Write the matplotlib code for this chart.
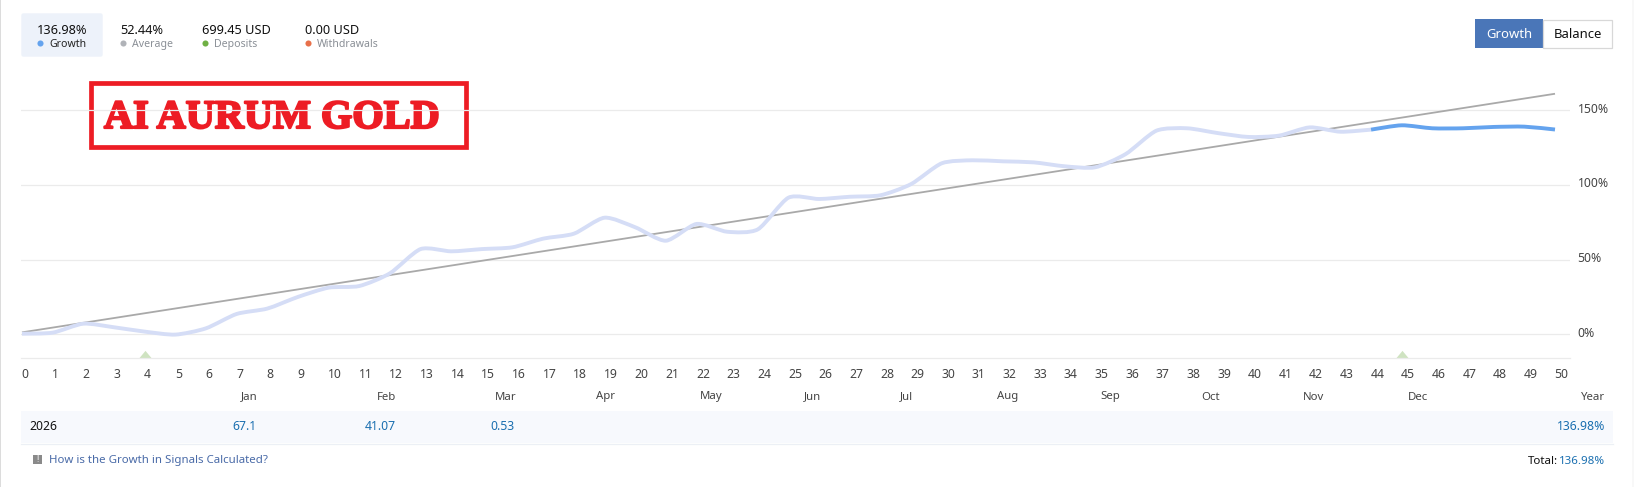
import matplotlib
matplotlib.use("Agg")
import matplotlib.pyplot as plt
from matplotlib.patches import Rectangle, FancyBboxPatch, PathPatch
from matplotlib.path import Path
from matplotlib.transforms import ScaledTranslation
import matplotlib.patheffects as pe

# ---- data ----
weeks = list(range(51))
growth = [0.4, 1.1, 7.1, 4.7, 1.8, -0.2, 4.0, 13.6, 17.2, 25.0, 31.2, 32.3, 40.8,
          57.0, 55.5, 57.0, 58.2, 64.0, 67.3, 78.0, 71.6, 62.6, 73.8, 68.6, 70.2,
          91.4, 90.5, 92.0, 93.0, 100.5, 114.4, 116.4, 115.7, 115.0, 112.4, 111.7,
          120.6, 136.2, 137.8, 134.6, 132.0, 132.9, 138.4, 135.5, 136.9, 139.8,
          137.8, 137.8, 138.7, 138.9, 136.98]
split_week = 44
trend_x = [0, 50]
trend_y = [1.3, 160.9]
deposit_weeks = [4, 45]
y_ticks = [0, 50, 100, 150]
months = ["Jan", "Feb", "Mar", "Apr", "May", "Jun", "Jul", "Aug", "Sep", "Oct", "Nov", "Dec"]
month_px = [249, 387, 506, 606, 711, 813, 907, 1008, 1110, 1211, 1314, 1418]
year_label = "2026"
month_values = ["67.1", "41.07", "0.53"]
value_right_px = [257, 396, 515]
year_total = "136.98%"
stats = [("136.98%", "Growth", "#64A3EE"),
         ("52.44%", "Average", "#B0B3B8"),
         ("699.45 USD", "Deposits", "#6FB044"),
         ("0.00 USD", "Withdrawals", "#E8704A")]
stat_px = [37, 120, 202, 305]

FONT = "Noto Sans"
W, H = 1634, 487
fig = plt.figure(figsize=(W / 100, H / 100), dpi=100, facecolor="white")

# ---- main chart axes, placed in pixels ----
L, R, T, B = 21, 1570, 80, 358.3
ax = fig.add_axes([L / W, 1 - B / H, (R - L) / W, (B - T) / H], facecolor="none", zorder=3)
xpx = 30.66
ypx = 1.495
ax.set_xlim((L - 22) / xpx, (R - 22) / xpx)
ax.set_ylim((334.3 - B) / ypx, (334.3 - T) / ypx)
for s in ["top", "left", "right"]:
    ax.spines[s].set_visible(False)
ax.spines["bottom"].set_color("#EBEBEB")
ax.spines["bottom"].set_linewidth(0.9)
ax.yaxis.tick_right()
ax.set_yticks(y_ticks)
ax.set_yticklabels([f"{v}%" for v in y_ticks])
ax.set_xticks(weeks)
ax.set_xticklabels([str(w) for w in weeks])
ax.tick_params(axis="both", length=0, labelcolor="#444444", labelsize=8.8)
ax.tick_params(axis="x", pad=7.2)
ax.tick_params(axis="y", pad=5.5)
for lab in ax.get_xticklabels():
    lab.set_fontfamily(FONT)
    lab.set_ha("left")
    lab.set_transform(lab.get_transform() + ScaledTranslation(-0.5 / 100, 0, fig.dpi_scale_trans))
for lab in ax.get_yticklabels():
    lab.set_fontfamily(FONT)
    lab.set_transform(lab.get_transform() + ScaledTranslation(0, 2.5 / 100, fig.dpi_scale_trans))
ax.grid(axis="y", color="#EBEBEB", linewidth=0.9, zorder=0)
ax.set_axisbelow(True)

ax.plot(trend_x, trend_y, color="#A9A9A9", lw=1.3, zorder=2, solid_capstyle="butt")


def smooth(xs, ys, k=0.12):
    """Bezier path through the points, with tangents from the neighbours."""
    verts = [(xs[0], ys[0])]
    codes = [Path.MOVETO]
    n = len(xs)
    for i in range(n - 1):
        a = max(i - 1, 0)
        b = min(i + 2, n - 1)
        verts.append((xs[i] + k * (xs[i + 1] - xs[a]), ys[i] + k * (ys[i + 1] - ys[a])))
        verts.append((xs[i + 1] - k * (xs[b] - xs[i]), ys[i + 1] - k * (ys[b] - ys[i])))
        verts.append((xs[i + 1], ys[i + 1]))
        codes += [Path.CURVE4] * 3
    return Path(verts, codes)


ax.add_patch(PathPatch(smooth(weeks[:split_week + 1], growth[:split_week + 1]), fill=False,
                       edgecolor="#D5DDF6", lw=2.8, capstyle="butt", joinstyle="round", zorder=3))
ax.add_patch(PathPatch(smooth(weeks[split_week:], growth[split_week:]), fill=False,
                       edgecolor="#64A3EE", lw=2.8, capstyle="butt", joinstyle="round", zorder=4))

ax.plot(deposit_weeks, [0] * len(deposit_weeks), linestyle="none",
        marker=[(-1, 0), (1, 0), (0, 1.2)], markersize=11, color="#CFE3C1", mew=0,
        transform=ax.get_xaxis_transform(), clip_on=False, zorder=2)

# ---- page furniture, drawn in pixel coordinates ----
pg = fig.add_axes([0, 0, 1, 1], facecolor="none", zorder=2)
pg.set_xlim(0, W)
pg.set_ylim(H, 0)
pg.axis("off")

pg.add_patch(Rectangle((0, 0), 1.3, H, color="#DCDCDC", lw=0))
pg.add_patch(Rectangle((W - 1.5, 0), 1.5, H, color="#F8F8F8", lw=0))

pg.add_patch(FancyBboxPatch((22, 14), 80, 42, boxstyle="round,pad=0,rounding_size=1.5",
                            mutation_aspect=1, fc="#EDF2FA", ec="#EDF2FA", lw=1))
for (val, lab, col), x in zip(stats, stat_px):
    active = lab == "Growth"
    pg.text(x, 30.5, val, family=FONT, fontsize=9.2, color="#111111", ha="left", va="center")
    pg.plot([x + 3], [43], marker="o", ms=4.4, color=col, mew=0)
    pg.text(x + 12, 44.5, lab, family=FONT, fontsize=7.6,
            color="#222222" if active else "#8A8F96", ha="left", va="center")

pg.add_patch(Rectangle((1475, 19), 68, 29, fc="#4A76B8", ec="none"))
pg.add_patch(Rectangle((1543, 19.5), 69, 28, fc="white", ec="#D8D8D8", lw=0.9))
pg.text(1509, 34.5, "Growth", family=FONT, fontsize=9.4, color="white", ha="center", va="center")
pg.text(1577.5, 34.5, "Balance", family=FONT, fontsize=9.4, color="#111111", ha="center", va="center")

pg.add_patch(Rectangle((91.3, 83.3), 374.5, 63.5, fc="none", ec="#ED1C24", lw=3.4))
pg.text(104, 128, "AI AURUM GOLD", family="Liberation Serif", weight="bold", fontsize=29,
        color="#ED1C24", ha="left", va="baseline",
        path_effects=[pe.withStroke(linewidth=1.6, foreground="#ED1C24")])

for m, x in zip(months, month_px):
    pg.text(x, 397, m, family=FONT, fontsize=8.2, color="#444444", ha="center", va="center")
pg.text(1605, 397, "Year", family=FONT, fontsize=8.2, color="#444444", ha="right", va="center")

pg.add_patch(Rectangle((21, 411), 1592, 32, fc="#F7F9FD", ec="none"))
pg.plot([21, 1613], [443.5, 443.5], color="#ECF0F5", lw=0.9)
pg.text(29, 427, year_label, family=FONT, fontsize=8.8, weight="medium", color="#111111",
        ha="left", va="center")
for v, x in zip(month_values, value_right_px):
    pg.text(x, 427, v, family=FONT, fontsize=8.8, color="#1A6FB0", ha="right", va="center")
pg.text(1605, 427, year_total, family=FONT, fontsize=8.8, color="#1A6FB0", ha="right", va="center")

pg.add_patch(Rectangle((33, 455), 9, 9, fc="#8A8A8A", ec="none"))
pg.text(37.5, 459.7, "!", family=FONT, fontsize=6, weight="bold", color="white", ha="center", va="center")
pg.text(49, 461, "How is the Growth in Signals Calculated?", family=FONT, fontsize=8.25,
        color="#4A6BA8", ha="left", va="center")
pg.text(1558, 461, "Total:", family=FONT, fontsize=8.3, color="#111111", ha="right", va="center")
pg.text(1605, 461, year_total, family=FONT, fontsize=8.3, color="#1A6FB0", ha="right", va="center")

fig.savefig("out.png", dpi=100, facecolor="white")
